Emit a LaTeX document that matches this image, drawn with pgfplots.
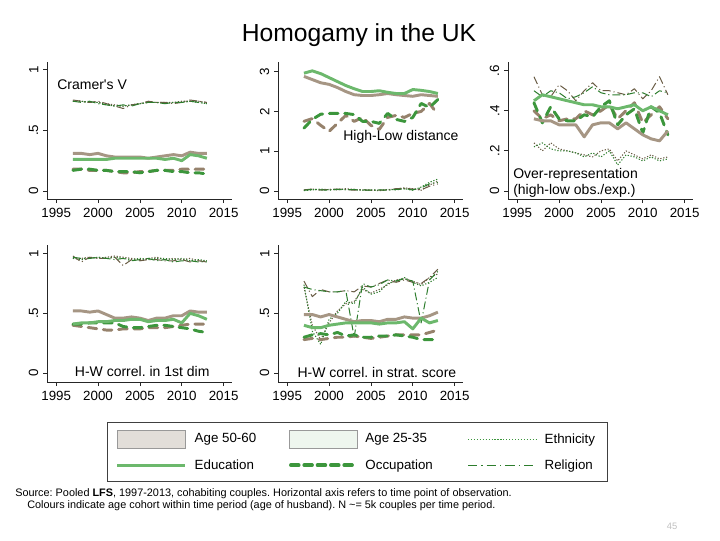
\documentclass[border=0pt]{standalone}
\usepackage{pgfplots}
\usepackage{pgfplotstable}
\pgfplotsset{compat=1.18}
\usepackage{fontspec}
\setmainfont{Liberation Sans}

\definecolor{oldthick}{RGB}{166,150,132}
\definecolor{youngthick}{RGB}{108,184,108}
\definecolor{oldocc}{RGB}{150,130,108}
\definecolor{youngocc}{RGB}{60,150,60}
\definecolor{oldthin}{RGB}{105,92,68}
\definecolor{youngthin}{RGB}{45,125,45}
\definecolor{boxold}{RGB}{226,222,217}
\definecolor{boxyoung}{RGB}{238,246,238}

\pgfplotsset{
  panel/.style={
    scale only axis, width=138.75pt, height=103pt,
    xmin=1993.9, xmax=2016,
    axis x line*=bottom, axis y line*=left,
    axis line style={-, black!85, line width=0.6pt},
    tick align=outside, major tick length=3pt,
    tick style={black!85, line width=0.6pt},
    xtick={1995,2000,2005,2010,2015},
    xticklabels={1995,2000,2005,2010,2015},
    tick label style={font=\fontsize{10}{12}\selectfont},
    yticklabel style={rotate=90, anchor=south},
    /pgf/number format/assume math mode=true,
    clip=false,
    every axis plot/.append style={line join=round},
  },
  myeduO/.style={color=oldthick, line width=2.2pt},
  myeduY/.style={color=youngthick, line width=2.2pt},
  myoccO/.style={color=oldocc, line width=2.2pt, dash pattern=on 6.5pt off 5pt, line cap=round},
  myoccY/.style={color=youngocc, line width=2.2pt, dash pattern=on 6.5pt off 5pt, line cap=round},
  myrelO/.style={color=oldthin, line width=0.75pt, dash pattern=on 6pt off 2.2pt on 0.8pt off 2.2pt},
  myrelY/.style={color=youngthin, line width=0.75pt, dash pattern=on 6pt off 2.2pt on 0.8pt off 2.2pt},
  myethO/.style={color=oldthin, line width=0.8pt, dash pattern=on 0.9pt off 1.3pt},
  myethY/.style={color=youngthin, line width=0.8pt, dash pattern=on 0.9pt off 1.3pt},
}

\newcommand{\plotall}[1]{%
  \addplot[myethO] table[x=year,y=ethO]{#1};
  \addplot[myethY] table[x=year,y=ethY]{#1};
  \addplot[myrelO] table[x=year,y=relO]{#1};
  \addplot[myrelY] table[x=year,y=relY]{#1};
  \addplot[myoccO] table[x=year,y=occO]{#1};
  \addplot[myoccY] table[x=year,y=occY]{#1};
  \addplot[myeduO] table[x=year,y=eduO]{#1};
  \addplot[myeduY] table[x=year,y=eduY]{#1};
}

% Cramer's V
\pgfplotstableread{
year eduO eduY occO occY relO relY ethO ethY
1997 .31 .26 .18 .17 .75 .74 .74 .74
1998 .31 .26 .18 .18 .74 .73 .74 .74
1999 .30 .26 .17 .18 .73 .74 .73 .73
2000 .31 .26 .17 .17 .74 .72 .73 .73
2001 .29 .26 .17 .17 .72 .71 .72 .71
2002 .28 .27 .16 .16 .70 .70 .71 .70
2003 .28 .27 .15 .16 .68 .71 .70 .70
2004 .28 .27 .15 .16 .71 .70 .71 .71
2005 .28 .27 .16 .15 .72 .72 .72 .72
2006 .27 .27 .16 .16 .74 .73 .73 .73
2007 .28 .27 .17 .17 .73 .73 .73 .73
2008 .29 .26 .17 .17 .73 .72 .73 .72
2009 .30 .27 .17 .16 .72 .73 .73 .73
2010 .29 .25 .18 .16 .73 .73 .74 .73
2011 .32 .30 .18 .15 .75 .74 .74 .74
2012 .31 .29 .18 .15 .74 .73 .74 .73
2013 .31 .27 .18 .14 .73 .72 .73 .72
}\tabA

% High-Low distance
\pgfplotstableread{
year eduO eduY occO occY relO relY ethO ethY
1997 2.88 2.96 1.75 1.58 0.03 0.02 0.02 0.01
1998 2.80 3.02 1.82 1.80 0.05 0.04 0.05 0.03
1999 2.72 2.95 1.65 1.93 0.03 0.03 0.02 0.05
2000 2.68 2.85 1.50 1.95 0.04 0.02 0.04 0.03
2001 2.60 2.75 1.70 1.95 0.05 0.04 0.03 0.05
2002 2.50 2.65 1.90 1.95 0.04 0.03 0.06 0.04
2003 2.42 2.57 1.75 1.92 0.02 0.04 0.04 0.03
2004 2.40 2.50 1.85 1.75 0.03 0.03 0.03 0.02
2005 2.40 2.50 1.65 1.75 0.02 0.02 0.02 0.03
2006 2.42 2.52 1.55 1.70 0.02 0.03 0.01 0.02
2007 2.45 2.48 1.85 1.95 0.03 0.02 0.03 0.04
2008 2.42 2.45 1.90 1.80 0.06 0.04 0.05 0.03
2009 2.40 2.45 1.85 1.75 0.07 0.05 0.08 0.06
2010 2.38 2.55 1.95 1.85 0.05 0.03 0.06 0.02
2011 2.42 2.53 2.00 2.20 0.03 0.08 0.02 0.10
2012 2.40 2.50 2.20 2.10 0.12 0.18 0.15 0.22
2013 2.38 2.45 1.92 2.30 0.18 0.22 0.25 0.30
}\tabB

% Over-representation
\pgfplotstableread{
year eduO eduY occO occY relO relY ethO ethY
1997 .36 .45 .40 .44 .57 .50 .24 .22
1998 .35 .48 .36 .34 .48 .47 .20 .24
1999 .35 .47 .38 .42 .47 .50 .24 .21
2000 .33 .46 .35 .36 .53 .49 .21 .20
2001 .33 .45 .36 .35 .50 .46 .20 .20
2002 .33 .44 .36 .35 .45 .47 .19 .19
2003 .27 .43 .40 .38 .50 .49 .18 .17
2004 .33 .43 .38 .37 .54 .52 .17 .19
2005 .34 .42 .40 .42 .50 .49 .20 .17
2006 .34 .42 .43 .45 .50 .48 .21 .20
2007 .31 .41 .36 .33 .49 .48 .15 .13
2008 .34 .42 .40 .38 .48 .48 .20 .18
2009 .31 .43 .44 .41 .51 .49 .18 .17
2010 .28 .40 .34 .29 .46 .49 .16 .15
2011 .26 .42 .38 .42 .50 .47 .18 .17
2012 .25 .40 .42 .39 .57 .50 .16 .15
2013 .30 .38 .36 .28 .48 .49 .17 .16
}\tabC

% H-W correl. in 1st dim
\pgfplotstableread{
year eduO eduY occO occY relO relY ethO ethY
1997 .52 .41 .40 .41 .98 .97 .96 .96
1998 .52 .42 .39 .41 .93 .96 .96 .95
1999 .51 .42 .38 .42 .97 .96 .97 .96
2000 .52 .43 .37 .42 .96 .97 .96 .97
2001 .49 .43 .36 .42 .96 .96 .97 .96
2002 .46 .44 .36 .42 .97 .95 .98 .97
2003 .46 .44 .37 .39 .90 .96 .97 .96
2004 .47 .45 .37 .38 .95 .94 .96 .95
2005 .46 .45 .37 .38 .94 .95 .95 .96
2006 .44 .43 .38 .39 .95 .96 .96 .95
2007 .46 .44 .38 .40 .95 .94 .97 .96
2008 .46 .44 .38 .40 .94 .95 .95 .96
2009 .48 .45 .39 .39 .94 .93 .96 .95
2010 .48 .42 .40 .38 .95 .94 .95 .96
2011 .52 .50 .41 .37 .93 .94 .96 .94
2012 .51 .48 .41 .35 .94 .93 .94 .95
2013 .51 .45 .41 .34 .93 .93 .94 .94
}\tabD

% H-W correl. in strat. score
\pgfplotstableread{
year eduO eduY occO occY relO relY ethO ethY
1997 .49 .40 .28 .30 .77 .72 .72 .74
1998 .49 .38 .29 .32 .64 .70 .40 .35
1999 .47 .38 .28 .33 .70 .69 .28 .24
2000 .49 .40 .29 .32 .68 .68 .42 .45
2001 .47 .41 .30 .34 .68 .68 .52 .50
2002 .45 .42 .30 .31 .69 .69 .58 .60
2003 .43 .42 .31 .32 .68 .30 .60 .58
2004 .44 .42 .30 .30 .73 .75 .70 .72
2005 .44 .42 .29 .30 .72 .72 .67 .66
2006 .43 .41 .30 .31 .75 .74 .70 .68
2007 .45 .42 .31 .31 .78 .78 .74 .75
2008 .45 .42 .32 .32 .76 .77 .78 .77
2009 .47 .43 .32 .31 .78 .79 .79 .80
2010 .46 .37 .32 .30 .76 .77 .77 .76
2011 .46 .46 .32 .28 .75 .42 .74 .73
2012 .48 .42 .34 .28 .80 .78 .80 .76
2013 .51 .44 .36 .28 .87 .85 .83 .80
}\tabE

\begin{document}
\frenchspacing
\begin{tikzpicture}
\useasboundingbox (0pt,0pt) rectangle (540pt,-405pt);

\node[font=\fontsize{18.5}{22}\selectfont] at (269.25pt,-26.25pt) {Homogamy in the UK};

% Panel 1
\begin{axis}[panel, at={(35.25pt,-149.25pt)}, anchor=south west,
  ymin=-0.066, ymax=1.066, ytick={0,0.5,1}, yticklabels={0,.5,1}]
  \plotall{\tabA}
  \node[anchor=west, inner sep=0pt, font=\fontsize{10.5}{12}\selectfont] at (axis cs:1995.1,0.876) {Cramer\textquotesingle s V};
\end{axis}

% Panel 2
\begin{axis}[panel, at={(208.5pt,-149.25pt)}, anchor=south west,
  ymin=-0.2, ymax=3.25, ytick={0,1,2,3}, yticklabels={0,1,2,3}]
  \plotall{\tabB}
  \node[anchor=east, inner sep=0pt, font=\fontsize{10.5}{12}\selectfont] at (axis cs:2015.5,1.37) {High-Low distance};
\end{axis}

% Panel 3
\begin{axis}[panel, at={(381pt,-149.25pt)}, anchor=south west,
  ymin=-0.04, ymax=0.645, ytick={0,0.2,0.4,0.6}, yticklabels={0,.2,.4,.6}]
  \plotall{\tabC}
  \node[anchor=west, inner sep=0pt, align=left, font=\fontsize{10.5}{12}\selectfont] at (axis cs:1994.5,0.04) {Over-representation\\(high-low obs./exp.)};
\end{axis}

% Panel 4
\begin{axis}[panel, at={(35.25pt,-286.5pt)}, anchor=south west,
  ymin=-0.075, ymax=1.075, ytick={0,0.5,1}, yticklabels={0,.5,1}]
  \plotall{\tabD}
  \node[anchor=west, inner sep=0pt, font=\fontsize{10.5}{12}\selectfont] at (axis cs:1997.2,0.01) {H-W correl. in 1st dim};
\end{axis}

% Panel 5
\begin{axis}[panel, at={(208.5pt,-286.5pt)}, anchor=south west,
  ymin=-0.075, ymax=1.075, ytick={0,0.5,1}, yticklabels={0,.5,1}]
  \plotall{\tabE}
  \node[anchor=west, inner sep=0pt, font=\fontsize{10.5}{12}\selectfont] at (axis cs:1996.2,0.005) {H-W correl. in strat. score};
\end{axis}

% Legend
\begin{axis}[hide axis, scale only axis, width=10pt, height=10pt,
  xmin=0, xmax=1, ymin=0, ymax=1,
  at={(80.25pt,-316.5pt)}, anchor=south west,
  legend columns=3, legend cell align=left,
  legend style={at={(0,0)}, anchor=north west, draw=black!75, line width=0.8pt,
    inner xsep=6pt, inner ysep=2.75pt,
    font=\fontsize{10}{12}\selectfont,
    nodes={inner sep=0pt, minimum height=19.5pt},
    /tikz/every odd column/.append style={column sep=6pt}},
]
  \addlegendimage{legend image code/.code={\draw[fill=boxold, draw=black!40, line width=0.5pt] (0pt,-6.6pt) rectangle (51pt,6.6pt);}}
  \addlegendentry{\makebox[70.5pt][l]{Age 50-60}}
  \addlegendimage{legend image code/.code={\draw[fill=boxyoung, draw=black!40, line width=0.5pt] (0pt,-6.6pt) rectangle (51pt,6.6pt);}}
  \addlegendentry{\makebox[76.5pt][l]{Age 25-35}}
  \addlegendimage{legend image code/.code={\draw[color=youngocc, line width=0.9pt, dash pattern=on 0.9pt off 1.3pt] (0pt,0pt) -- (51pt,0pt);}}
  \addlegendentry{\makebox[41pt][l]{Ethnicity}}
  \addlegendimage{legend image code/.code={\draw[color=youngthick, line width=2.4pt] (0pt,0pt) -- (51pt,0pt);}}
  \addlegendentry{\makebox[70.5pt][l]{Education}}
  \addlegendimage{legend image code/.code={\draw[color=youngocc, line width=2.6pt, dash pattern=on 6pt off 4pt, line cap=round] (1.3pt,0pt) -- (50pt,0pt);}}
  \addlegendentry{\makebox[76.5pt][l]{Occupation}}
  \addlegendimage{legend image code/.code={\draw[color=youngthin, line width=0.9pt, dash pattern=on 7pt off 3pt on 1pt off 3pt] (0pt,0pt) -- (51pt,0pt);}}
  \addlegendentry{\makebox[41pt][l]{Religion}}
\end{axis}

\node[anchor=west, inner sep=0pt, font=\fontsize{8.15}{9.6}\selectfont] at (11.25pt,-370.5pt)
  {Source: Pooled \textbf{LFS}, 1997-2013, cohabiting couples. Horizontal axis refers to time point of observation.};
\node[anchor=west, inner sep=0pt, font=\fontsize{8.15}{9.6}\selectfont] at (20.25pt,-379.5pt)
  {Colours indicate age cohort within time period (age of husband). N \textasciitilde= 5k couples per time period.};
\node[text=black!25, font=\fontsize{7}{8}\selectfont] at (504pt,-394.5pt) {45};
\end{tikzpicture}
\end{document}
